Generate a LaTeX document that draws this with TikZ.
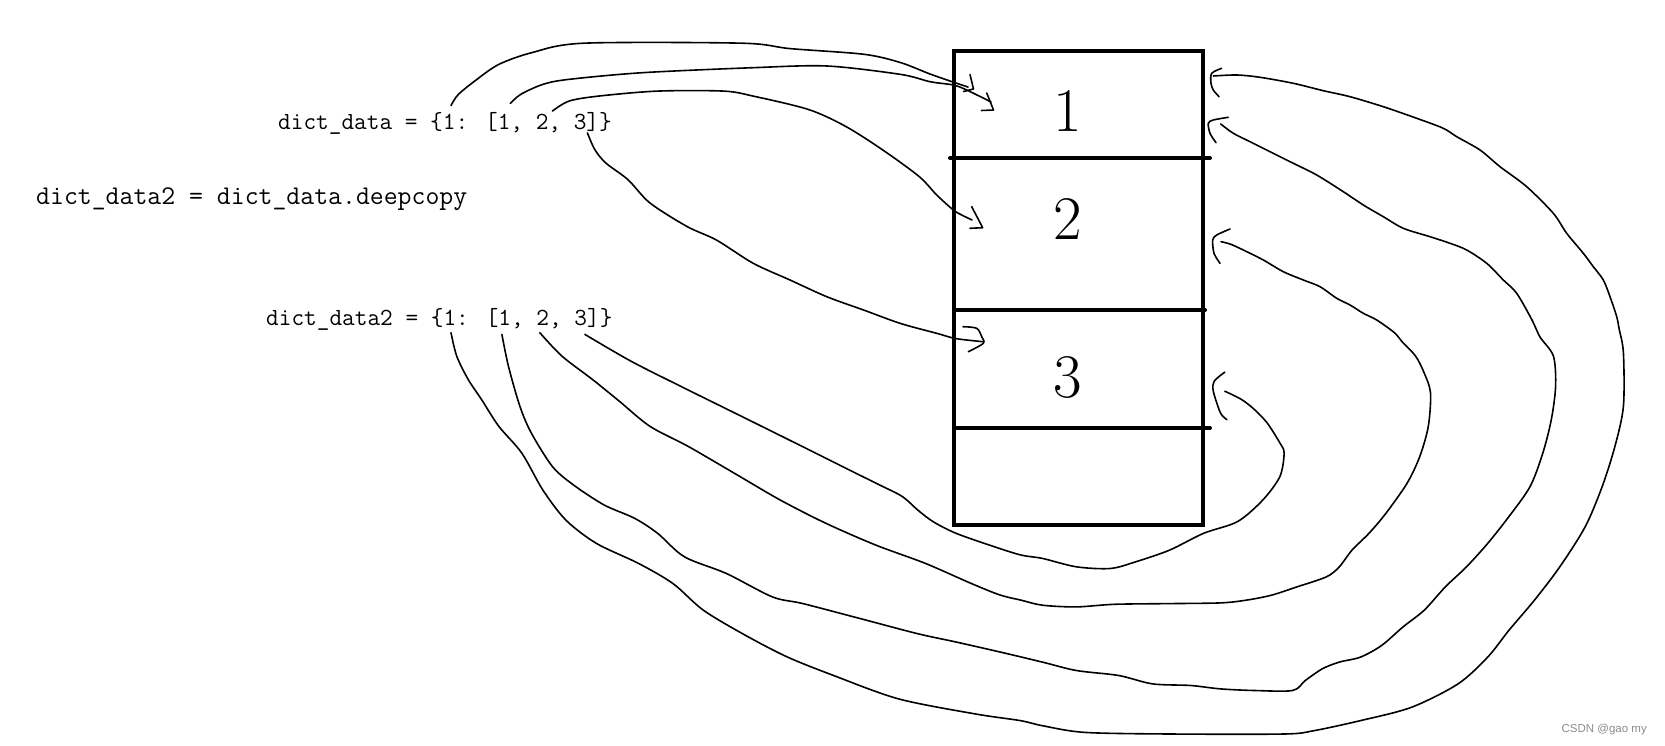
\documentclass[tikz,border=0pt]{standalone}
\usepackage{fontspec}
\newfontfamily\wmfont{Liberation Sans}
\begin{document}
\begin{tikzpicture}[x=1pt,y=-1pt,
  codetext/.style={inner sep=0pt,anchor=base west,font=\ttfamily\fontsize{24.6}{28}\selectfont},
  celldigit/.style={inner sep=0pt,anchor=base,font=\fontsize{62}{70}\selectfont},
  boxline/.style={line width=4pt},
  wire/.style={line width=1.6pt,line join=round,line cap=round},
  barb/.style={line width=1.6pt,line join=round,line cap=round}]
\useasboundingbox (0,0) rectangle (1665,746);
\fill[white] (0,0) rectangle (1665,746);

% texts
\node[codetext] (t1) at (278,130) {dict\_data = \{1: [1, 2, 3]\}};
\node[codetext,font=\ttfamily\fontsize{27}{30}\selectfont] (t2) at (36,205) {dict\_data2 = dict\_data.deepcopy};
\node[codetext] (t3) at (266,325) {dict\_data2 = \{1: [1, 2, 3]\}};

% memory box
\node[boxline,draw,minimum width=249pt,minimum height=474pt,inner sep=0pt] (mem) at (1078.5,288) {};
\draw[boxline,line cap=round] (950,158) -- (1210,158);
\draw[boxline,line cap=round] (954,310) -- (1205,310);
\draw[boxline,line cap=round] (954,428) -- (1210,428);
\node[celldigit] (n1) at (1068,132) {1};
\node[celldigit] (n2) at (1068,240) {2};
\node[celldigit] (n3) at (1068,397) {3};

% connector end points
\coordinate (sA) at (451,105.5);
\coordinate (sB) at (510.3,103.4);
\coordinate (sC) at (552.4,111.1);
\coordinate (sD) at (587.4,132.9);
\coordinate (sE) at (451,332.7);
\coordinate (sF) at (501.9,334.4);
\coordinate (sG) at (539.8,332.7);
\coordinate (sH) at (584.9,334.4);
\coordinate (eA) at (968,87);
\coordinate (eB) at (991,102);
\coordinate (eC) at (972,220);
\coordinate (eD) at (983,341.7);
\coordinate (eE) at (1213.3,76);
\coordinate (eF) at (1220.7,124);
\coordinate (eG) at (1221,241.7);
\coordinate (eH) at (1224.8,391.2);

% upper row connectors
\draw[wire] plot[smooth,tension=0.5] coordinates {(sA) (458.4,94.4) (476.9,79.4) (499,64.3) (532,52.6) (583.7,43.2) (742,43.2) (790,48.6) (864,54.3) (900.6,62.6) (930,74) (956.7,83.3) (eA)};
\draw[barb] (970,74.5) -- (973.5,89) -- (963.5,91.5);

\draw[wire] plot[smooth,tension=0.5] coordinates {(sB) (520.7,94.4) (542.8,84.4) (568.6,79.4) (642.3,72.7) (753,67.7) (826.9,66) (900.6,74.4) (930,81.7) (953.3,85) (966.7,90) (eB)};
\draw[barb] (986.7,93) -- (993.5,110) -- (981.5,110.5);

\draw[wire] plot[smooth,tension=0.5] coordinates {(sC) (569,101.1) (598.5,96.1) (657.4,91.1) (723.7,91.1) (753.2,96.1) (808.5,109.5) (845.3,126.2) (882.2,149.6) (919,176.4) (936.7,195) (953.3,210) (961.7,215) (eC)};
\draw[barb] (971.7,206.7) -- (982.7,227.7) -- (970,228.3);

\draw[wire] plot[smooth,tension=0.5] coordinates {(sD) (594.8,149.6) (605.8,163) (628,179.7) (650,203) (687,226.5) (716.4,240) (753.2,263.3) (790,280) (827,296.8) (863.8,310.1) (900.6,323.5) (937.4,333.5) (955.9,338.6) (eD)};
\draw[barb] plot[smooth,tension=0.5] coordinates {(963,326.7) (976.7,328.3) (981.7,336.7) (983.3,343.3) (968.3,351.7)};

% lower row connectors
\draw[wire] plot[smooth,tension=0.5] coordinates {(sE) (456.7,356.1) (468.2,379.5) (481.6,399.6) (498.8,426.3) (521.8,453.1) (542.8,489.9) (565.8,520) (596.4,543.4) (638.5,563.4) (672.9,583.5) (703.5,610.3) (745.6,635.4) (787.6,657.1) (833.6,675.5) (898.6,698.9) (975.1,713.9) (1020.3,720.6) (1042.4,725.7) (1084.8,732.4) (1169.6,734) (1284.1,734) (1313.8,730.7) (1360.5,720.6) (1411.4,707.3) (1458,683.9) (1487.7,657.1) (1508.9,630.3) (1534.4,600.2) (1559.8,566.8) (1585.2,526.7) (1602.2,486.5) (1614.9,446.4) (1623.4,406.3) (1623.4,352.8) (1619.2,329.3) (1616.7,316.7) (1610,296.7) (1603.3,280) (1593.3,266.7) (1583.3,253.3) (1566.7,233.3) (1553.3,213.3) (1526.7,186.7) (1500,166.7) (1480,150) (1456.7,136.7) (1443.3,128.3) (1416.7,118.3) (1383.3,106.7) (1350,96.7) (1323.3,90.7) (1293.3,83.3) (1260,77.3) (1236.7,75) (eE)};
\draw[barb] plot[smooth,tension=0.5] coordinates {(1221.7,68.3) (1211.7,73.3) (1211,83.3) (1213.3,90) (1219,96.7)};

\draw[wire] plot[smooth,tension=0.5] coordinates {(sF) (508.4,366.1) (519.9,406.3) (531.3,433) (552.4,466.5) (573.4,484.9) (604,504.9) (634.6,518.3) (657.6,533.3) (684.4,556.8) (726.4,573.5) (772.4,596.9) (803,603.6) (860.3,618.6) (917.7,633.7) (956,642) (1000,652) (1042.4,662.1) (1076.3,670.5) (1118.7,675.5) (1152.7,683.9) (1190.8,685.5) (1220.5,688.9) (1254.5,690.5) (1292.6,690.5) (1305.3,680.5) (1322.3,668.8) (1339.3,662.1) (1360.5,657.1) (1381.7,645.4) (1402.9,627) (1424.1,610.3) (1445.3,586.9) (1466.5,566.8) (1487.7,543.4) (1508.9,516.6) (1530.1,486.5) (1542.8,453.1) (1551.3,419.6) (1555.6,386.2) (1553.4,356.1) (1540,337) (1532,320) (1516.7,293.3) (1503.3,280) (1486.7,263.3) (1466.7,250) (1450,243.3) (1430,236.7) (1403.3,228.3) (1383.3,216.7) (1363.3,205) (1343.3,191.7) (1316.7,175) (1293.3,163.3) (1270,151.7) (1250,141.7) (1233.3,133.3) (eF)};
\draw[barb] plot[smooth,tension=0.5] coordinates {(1228.3,117.3) (1213.3,120) (1208.3,123.3) (1210,133.3) (1216,142.7)};

\draw[wire] plot[smooth,tension=0.5] coordinates {(sG) (561.9,356.1) (592.5,379.5) (619.3,401.2) (649.9,426.3) (688.2,446.4) (734.1,473.1) (780,499.9) (825.9,523.3) (875.6,545) (925.4,563.4) (971.3,583.5) (1000,595) (1021.2,600.2) (1042.4,605.2) (1076.3,606.9) (1114.5,604.3) (1169.6,603.6) (1220.5,602.9) (1246,600.2) (1271.4,595.2) (1296.9,586.9) (1326.5,576.8) (1339.3,566.8) (1352,550.1) (1369,533.3) (1385.9,513.3) (1407.1,483.2) (1419.8,456.4) (1428.3,426.3) (1430.5,392.9) (1424.1,372.8) (1415.6,356.1) (1402.9,342.7) (1394.4,332.7) (1376.7,320) (1363.3,313.3) (1350,305) (1336.7,298.3) (1320,286.7) (1303.3,280) (1283.3,271.7) (1263.3,260) (1243.3,250) (1230,244) (eG)};
\draw[barb] plot[smooth,tension=0.5] coordinates {(1230,229) (1216.7,235) (1212.7,240) (1214,253.3) (1220,263.3)};

\draw[wire] plot[smooth,tension=0.5] coordinates {(sH) (630.8,361.1) (680.5,386.2) (738,414.6) (795.3,443) (848.9,469.8) (879.5,484.9) (902.4,496.6) (917.7,510) (933,521.6) (956,533.3) (994.2,546.7) (1021.2,555.1) (1042.4,558.4) (1076.3,566.8) (1110.3,568.5) (1135.7,561.8) (1169.6,550.1) (1203.6,533.3) (1237.5,521.6) (1262.9,499.9) (1279.9,476.5) (1284.1,453.1) (1279.9,443) (1267.2,423) (1254.5,409.6) (1241.7,399.6) (eH)};
\draw[barb] plot[smooth,tension=0.5] coordinates {(1224.8,372.1) (1214.2,381.2) (1213.3,391.2) (1220.5,413) (1226.9,419.6)};

% watermark
\node[inner sep=0pt,anchor=base east,text=black!45,font=\wmfont\fontsize{11.5}{13}\selectfont] (wm) at (1647,732) {CSDN @gao my};
\end{tikzpicture}
\end{document}
